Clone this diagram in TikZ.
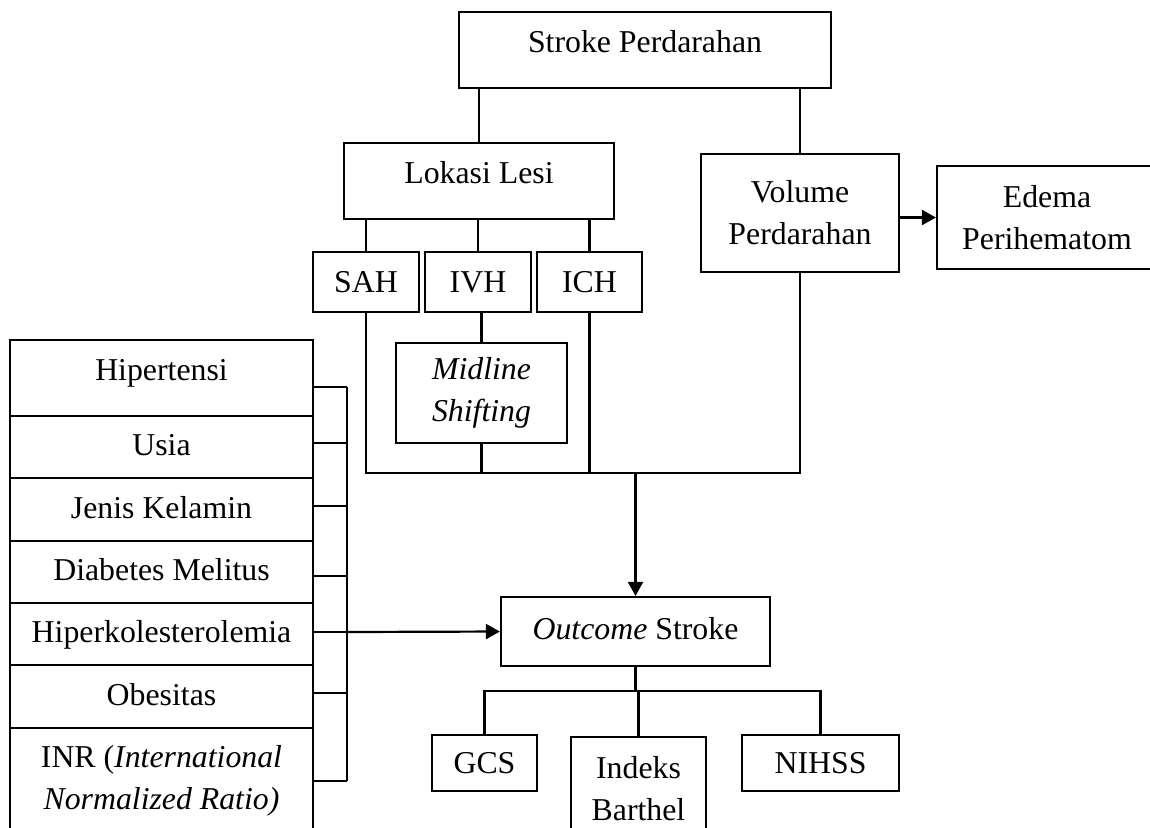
\documentclass[tikz,border=0pt]{standalone}
\usepackage{fontspec}
\setmainfont{Liberation Serif}
\usetikzlibrary{arrows.meta}

\begin{document}
\begin{tikzpicture}[x=0.5pt,y=-0.5pt,>={Triangle[length=7pt,width=7.5pt]},line width=1.1pt,
  box/.style={draw,inner sep=0pt,align=center,font=\fontsize{15.9pt}{21pt}\selectfont},
  naik/.style={text height=11pt,text depth=#1}]
\useasboundingbox (0,0) rectangle (1150,827);
\clip (0,0) rectangle (1150,827);
% atas
\node[box,naik=8.4pt,minimum width=186pt,minimum height=38pt] (top) at (645,50) {Stroke Perdarahan};
\node[box,naik=8.4pt,minimum width=135pt,minimum height=38pt] (lok) at (479,181) {Lokasi Lesi};
\node[box,minimum width=99pt,minimum height=59pt] (vol) at (800,213) {Volume\\Perdarahan};
\node[box,minimum width=110pt,minimum height=51.5pt] (ede) at (1047,217.5) {Edema\\Perihematom};
\node[box,naik=0.4pt,minimum width=53pt,minimum height=30pt] (sah) at (366,282) {SAH};
\node[box,naik=0.4pt,minimum width=53pt,minimum height=30pt] (ivh) at (478,282) {IVH};
\node[box,naik=0.4pt,minimum width=52.5pt,minimum height=30pt] (ich) at (589.5,282) {ICH};
\node[box,minimum width=85.5pt,minimum height=50pt] (mid) at (481.5,393) {\textit{Midline}\\\textit{Shifting}};
% faktor
\node[box,naik=8.4pt,minimum width=151.5pt,minimum height=38pt] (hip) at (161.5,378) {Hipertensi};
\node[box,naik=2.4pt,minimum width=151.5pt,minimum height=31pt] (usia) at (161.5,447) {Usia};
\node[box,naik=2.4pt,minimum width=151.5pt,minimum height=31.5pt] (jk) at (161.5,509.5) {Jenis Kelamin};
\node[box,naik=2.4pt,minimum width=151.5pt,minimum height=31pt] (dm) at (161.5,572) {Diabetes Melitus};
\node[box,naik=2.4pt,minimum width=151.5pt,minimum height=31pt] (hk) at (161.5,634) {Hiperkolesterolemia};
\node[box,naik=2.4pt,minimum width=151.5pt,minimum height=31.5pt] (ob) at (161.5,696.5) {Obesitas};
\node[box,minimum width=151.5pt,minimum height=53pt] (inr) at (161.5,781) {INR (\textit{International}\\\textit{Normalized Ratio)}};
% outcome
\node[box,naik=3.4pt,minimum width=134.5pt,minimum height=34.5pt] (out) at (635.5,631.5) {\textit{Outcome} Stroke};
\node[box,naik=0.4pt,minimum width=52.5pt,minimum height=28pt] (gcs) at (484.5,763) {GCS};
\node[box,minimum width=67.5pt,minimum height=51.5pt] (ind) at (638.5,788.5) {Indeks\\Barthel};
\node[box,naik=0.4pt,minimum width=78.5pt,minimum height=28pt] (nih) at (820.5,763) {NIHSS};

\draw (top.south -| lok.north) -- (lok.north);
\draw (top.south -| vol.north) -- (vol.north);
\foreach \n in {sah,ivh,ich} \draw (lok.south -| \n.north) -- (\n.north);
\draw (ivh.south -| mid.north) -- (mid.north);
\coordinate (bus) at (0,473);
\draw (sah.south) -- (sah.south |- bus) -- (vol.south |- bus) -- (vol.south);
\draw (mid.south) -- (mid.south |- bus);
\draw (ich.south) -- (ich.south |- bus);
\draw[->] (out.north |- bus) -- (out.north);
\draw[->] (vol.east |- ede.west) -- (ede.west);

% kurung faktor
\foreach \r/\dy in {hip/9,usia/-4,jk/-3.5,dm/4,hk/-2,ob/-3.5,inr/0}
  \draw ([shift={(0,\dy)}]\r.east) -- ++(33,0);
\draw ([shift={(33,9)}]hip.east) -- ([shift={(33,0)}]inr.east);
\coordinate (brk) at (346,632);
\draw[->] (brk) -- (out.west);

\coordinate (bus2) at (0,691);
\draw (out.south) -- (out.south |- bus2);
\draw (gcs.north) -- (gcs.north |- bus2) -- (nih.north |- bus2) -- (nih.north);
\draw (ind.north) -- (ind.north |- bus2);
\end{tikzpicture}
\end{document}
